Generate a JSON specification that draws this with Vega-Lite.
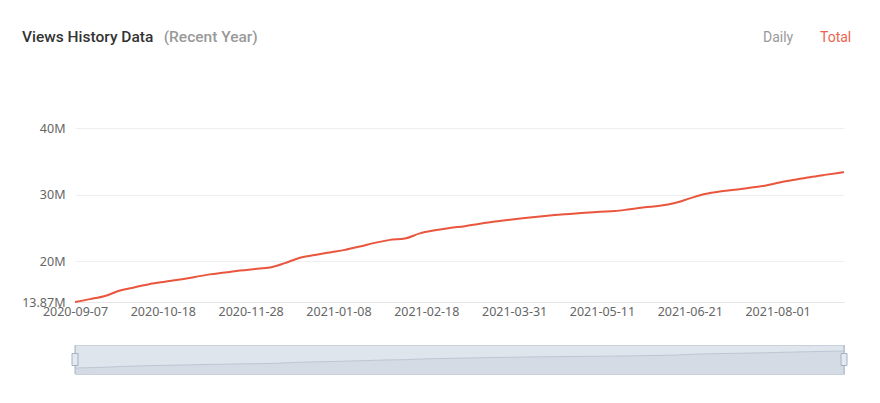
{
  "$schema": "https://vega.github.io/schema/vega-lite/v6.json",
  "background": "white",
  "padding": {"left": 21, "top": 29, "right": 0, "bottom": 0},
  "autosize": {"type": "pad"},
  "spacing": 26,
  "config": {"view": {"stroke": null}, "font": "Noto Sans"},
  "title": {"text": "(Recent Year)", "anchor": "start", "dx": 142, "dy": 16, "fontSize": 15.5, "fontWeight": 500, "color": "#999999", "font": "Roboto", "offset": 0},
  "datasets": {
    "views": [
      {"date": "2020-09-07", "views": 13870000, "series": "Total"},
      {"date": "2020-09-14", "views": 14300000, "series": "Total"},
      {"date": "2020-09-21", "views": 14780000, "series": "Total"},
      {"date": "2020-09-28", "views": 15590000, "series": "Total"},
      {"date": "2020-10-05", "views": 16090000, "series": "Total"},
      {"date": "2020-10-12", "views": 16570000, "series": "Total"},
      {"date": "2020-10-19", "views": 16920000, "series": "Total"},
      {"date": "2020-10-26", "views": 17250000, "series": "Total"},
      {"date": "2020-11-02", "views": 17640000, "series": "Total"},
      {"date": "2020-11-09", "views": 18020000, "series": "Total"},
      {"date": "2020-11-16", "views": 18300000, "series": "Total"},
      {"date": "2020-11-23", "views": 18600000, "series": "Total"},
      {"date": "2020-11-30", "views": 18830000, "series": "Total"},
      {"date": "2020-12-07", "views": 19050000, "series": "Total"},
      {"date": "2020-12-14", "views": 19710000, "series": "Total"},
      {"date": "2020-12-21", "views": 20510000, "series": "Total"},
      {"date": "2020-12-28", "views": 20930000, "series": "Total"},
      {"date": "2021-01-04", "views": 21320000, "series": "Total"},
      {"date": "2021-01-11", "views": 21700000, "series": "Total"},
      {"date": "2021-01-18", "views": 22210000, "series": "Total"},
      {"date": "2021-01-25", "views": 22750000, "series": "Total"},
      {"date": "2021-02-01", "views": 23200000, "series": "Total"},
      {"date": "2021-02-08", "views": 23400000, "series": "Total"},
      {"date": "2021-02-15", "views": 24180000, "series": "Total"},
      {"date": "2021-02-22", "views": 24630000, "series": "Total"},
      {"date": "2021-03-01", "views": 24980000, "series": "Total"},
      {"date": "2021-03-08", "views": 25260000, "series": "Total"},
      {"date": "2021-03-15", "views": 25620000, "series": "Total"},
      {"date": "2021-03-22", "views": 25950000, "series": "Total"},
      {"date": "2021-03-29", "views": 26230000, "series": "Total"},
      {"date": "2021-04-05", "views": 26480000, "series": "Total"},
      {"date": "2021-04-12", "views": 26710000, "series": "Total"},
      {"date": "2021-04-19", "views": 26920000, "series": "Total"},
      {"date": "2021-04-26", "views": 27100000, "series": "Total"},
      {"date": "2021-05-03", "views": 27280000, "series": "Total"},
      {"date": "2021-05-10", "views": 27430000, "series": "Total"},
      {"date": "2021-05-17", "views": 27520000, "series": "Total"},
      {"date": "2021-05-24", "views": 27800000, "series": "Total"},
      {"date": "2021-05-31", "views": 28090000, "series": "Total"},
      {"date": "2021-06-07", "views": 28320000, "series": "Total"},
      {"date": "2021-06-14", "views": 28740000, "series": "Total"},
      {"date": "2021-06-21", "views": 29430000, "series": "Total"},
      {"date": "2021-06-28", "views": 30080000, "series": "Total"},
      {"date": "2021-07-05", "views": 30470000, "series": "Total"},
      {"date": "2021-07-12", "views": 30710000, "series": "Total"},
      {"date": "2021-07-19", "views": 31010000, "series": "Total"},
      {"date": "2021-07-26", "views": 31340000, "series": "Total"},
      {"date": "2021-08-02", "views": 31830000, "series": "Total"},
      {"date": "2021-08-09", "views": 32230000, "series": "Total"},
      {"date": "2021-08-16", "views": 32620000, "series": "Total"},
      {"date": "2021-08-23", "views": 32960000, "series": "Total"},
      {"date": "2021-08-30", "views": 33280000, "series": "Total"},
      {"date": "2021-09-01", "views": 33370000, "series": "Total"}
    ],
    "handles": [
      {"date": "2020-09-07"},
      {"date": "2021-09-01"}
    ]
  },
  "vconcat": [
    {
      "width": 769,
      "height": 174,
      "title": {"text": "Views History Data", "anchor": "start", "frame": "group", "dx": -53, "offset": 77, "fontSize": 15.5, "fontWeight": 500, "color": "#333333", "font": "Roboto"},
      "data": {"name": "views"},
      "mark": {"type": "line", "strokeWidth": 2, "interpolate": "monotone"},
      "encoding": {
        "x": {
          "field": "date", "type": "temporal",
          "scale": {"type": "utc", "domain": [{"year": 2020, "month": 9, "date": 7, "utc": true}, {"year": 2021, "month": 9, "date": 1, "utc": true}]},
          "axis": {
            "title": null,
            "labelExpr": "utcFormat(datum.value, '%Y-%m-%d')",
            "values": [
              {"year": 2020, "month": 9, "date": 7, "utc": true},
              {"year": 2020, "month": 10, "date": 18, "utc": true},
              {"year": 2020, "month": 11, "date": 28, "utc": true},
              {"year": 2021, "month": 1, "date": 8, "utc": true},
              {"year": 2021, "month": 2, "date": 18, "utc": true},
              {"year": 2021, "month": 3, "date": 31, "utc": true},
              {"year": 2021, "month": 5, "date": 11, "utc": true},
              {"year": 2021, "month": 6, "date": 21, "utc": true},
              {"year": 2021, "month": 8, "date": 1, "utc": true}
            ],
            "grid": false, "ticks": false, "domainColor": "#e6e6e6", "labelColor": "#666666",
            "labelFontSize": 12.5, "labelPadding": 3, "labelAngle": 0, "labelFlush": false, "labelOverlap": false
          }
        },
        "y": {
          "field": "views", "type": "quantitative",
          "scale": {"domain": [13870000, 40000000], "nice": false, "zero": false},
          "axis": {
            "title": null, "values": [13870000, 20000000, 30000000, 40000000],
            "labelExpr": "datum.value < 15000000 ? '13.87M' : (datum.value / 1000000) + 'M'",
            "domain": false, "ticks": false, "grid": true, "gridColor": "#eeeeee",
            "labelColor": "#666666", "labelFontSize": 12.5, "labelPadding": 10
          }
        },
        "color": {
          "field": "series", "type": "nominal",
          "scale": {"domain": ["Daily", "Total"], "range": ["#999999", "#e9553d"]},
          "legend": {
            "title": null, "orient": "none", "legendX": 674, "legendY": -97, "direction": "horizontal",
            "symbolSize": 0, "symbolStrokeWidth": 0, "labelOffset": 0, "columnPadding": 12,
            "labelFontSize": 14, "labelFont": "Roboto",
            "encode": {"labels": {"update": {"fill": {"signal": "datum.label === 'Total' ? '#ec6450' : '#999999'"}}}}
          }
        }
      }
    },
    {
      "width": 769,
      "height": 29,
      "view": {"fill": "#dfe5ed", "stroke": "#c9d1dd"},
      "layer": [
        {
          "data": {"name": "views"},
          "mark": {"type": "area", "clip": true, "color": "#d0d7e1", "line": {"color": "#bdc6d3", "strokeWidth": 1}},
          "encoding": {
            "x": {"field": "date", "type": "temporal", "axis": null,
              "scale": {"type": "utc", "domain": [{"year": 2020, "month": 9, "date": 7, "utc": true}, {"year": 2021, "month": 9, "date": 1, "utc": true}]}},
            "y": {"field": "views", "type": "quantitative", "axis": null,
              "scale": {"domain": [7000000, 40300000], "nice": false, "zero": false}}
          }
        },
        {
          "data": {"name": "handles"},
          "mark": {"type": "rule", "color": "#a9b6c8", "strokeWidth": 1},
          "encoding": {
            "x": {"field": "date", "type": "temporal"}
          }
        },
        {
          "data": {"name": "handles"},
          "mark": {"type": "point", "shape": "M-0.5,-1L0.5,-1L0.5,1L-0.5,1Z", "size": 144, "filled": true, "fill": "#e4e9f0", "stroke": "#a3b1c4", "strokeWidth": 1, "opacity": 1},
          "encoding": {
            "x": {"field": "date", "type": "temporal"},
            "y": {"datum": 23650000, "type": "quantitative"}
          }
        }
      ]
    }
  ]
}
